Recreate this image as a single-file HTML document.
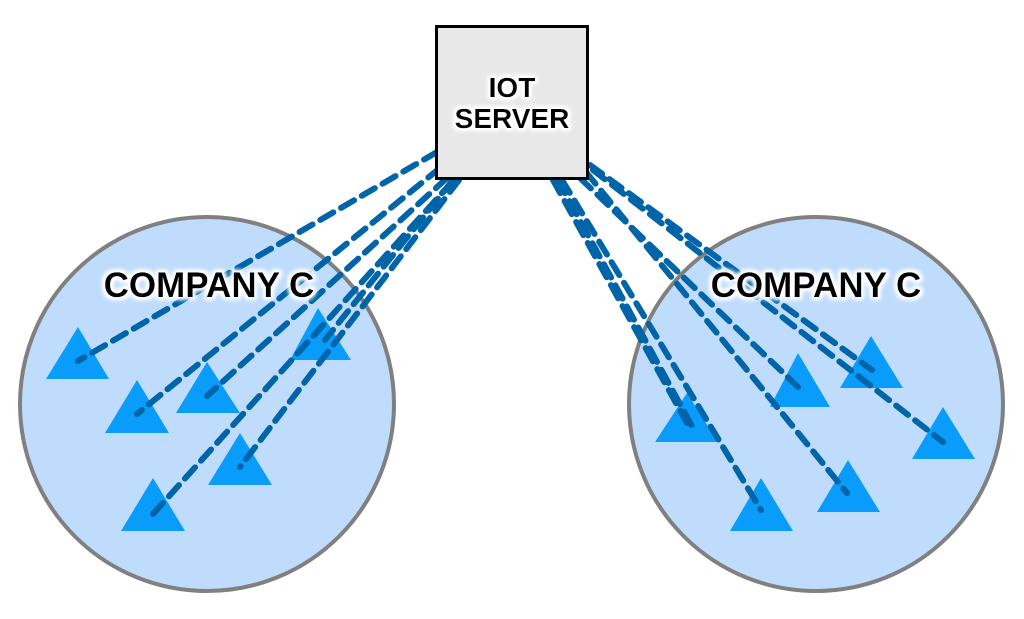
<!DOCTYPE html>
<html><head><meta charset="utf-8"><style>
html,body{margin:0;padding:0;background:#fff;}
svg{display:block;}
text{font-family:"Liberation Sans",sans-serif;font-weight:bold;}
</style></head><body>
<svg width="1024" height="619" viewBox="0 0 1024 619" xmlns="http://www.w3.org/2000/svg">
<defs>
<filter id="glow" x="-20%" y="-40%" width="140%" height="180%">
<feMorphology in="SourceAlpha" operator="dilate" radius="2" result="d"/>
<feGaussianBlur in="d" stdDeviation="2" result="b"/>
<feFlood flood-color="#fff"/>
<feComposite in2="b" operator="in" result="w"/>
<feMerge><feMergeNode in="w"/><feMergeNode in="w"/><feMergeNode in="SourceGraphic"/></feMerge>
</filter>
</defs>
<circle cx="207" cy="404" r="187" fill="#c0dcfc" stroke="#808080" stroke-width="4"/>
<circle cx="816" cy="404" r="187" fill="#c0dcfc" stroke="#808080" stroke-width="4"/>
<g fill="#0a9cfa">
<polygon points="78,327 46,379 109,379"/>
<polygon points="137,380 105,433 169,433"/>
<polygon points="207,362 176,413 240,413"/>
<polygon points="318,308 290,360 351,360"/>
<polygon points="240,433 208,485 272,485"/>
<polygon points="153,478 121,531 185,531"/>
<polygon points="798,353 770,407 830,407"/>
<polygon points="871,336 840,388 903,388"/>
<polygon points="687,393 655,442 718,442"/>
<polygon points="943,407 912,459 975,459"/>
<polygon points="848,460 817,512 880,512"/>
<polygon points="761,478 730,531 793,531"/>
</g>
<g stroke="#0064a8" stroke-width="6" stroke-dasharray="15 9" stroke-linecap="round" fill="none">
<line x1="437" y1="152" x2="78" y2="361"/>
<line x1="440" y1="168" x2="137" y2="414"/>
<line x1="447" y1="178" x2="207" y2="396"/>
<line x1="453" y1="180" x2="325" y2="340"/>
<line x1="452" y1="182" x2="153" y2="514"/>
<line x1="459" y1="180" x2="240" y2="467"/>
<line x1="553" y1="180" x2="687" y2="423"/>
<line x1="558" y1="180" x2="693" y2="428"/>
<line x1="562" y1="180" x2="761" y2="510"/>
<line x1="580" y1="178" x2="798" y2="387"/>
<line x1="586" y1="172" x2="847" y2="493"/>
<line x1="590" y1="165" x2="872" y2="370"/>
<line x1="593" y1="170" x2="943" y2="442"/>
</g>
<rect x="436.5" y="26.5" width="151" height="152" fill="#e8e8e8" stroke="#000" stroke-width="3"/>
<g filter="url(#glow)">
<text x="512" y="97" font-size="28" text-anchor="middle">IOT</text>
<text x="512" y="128" font-size="28" text-anchor="middle">SERVER</text>
<text x="209" y="297" font-size="35" text-anchor="middle">COMPANY C</text>
<text x="816" y="297" font-size="35" text-anchor="middle">COMPANY C</text>
</g>
</svg>
</body></html>
